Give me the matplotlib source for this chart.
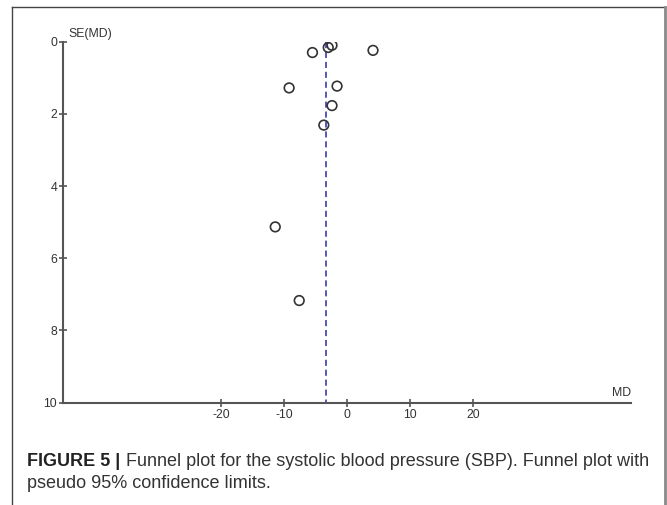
import matplotlib
matplotlib.use("Agg")
import matplotlib.pyplot as plt
from matplotlib.lines import Line2D

plt.rcParams['font.family'] = ['Liberation Sans', 'DejaVu Sans']

# study estimates
md = [-5.5, -3.0, -2.4, 4.1, -9.2, -1.6, -2.4, -3.7, -11.4, -7.6]
se_md = [0.30, 0.16, 0.10, 0.24, 1.28, 1.23, 1.77, 2.31, 5.13, 7.17]
pooled_md = -3.3

x_ticks = [-20, -10, 0, 10, 20]
y_ticks = [0, 2, 4, 6, 8, 10]

W, H = 667, 505
fig = plt.figure(figsize=(W / 100, H / 100), dpi=100)

# axes placed in pixels (left, bottom, right, top from image top)
left, right, top, bottom = 63.3, 631, 41.7, 402.7
ax = fig.add_axes([left / W, 1 - bottom / H, (right - left) / W, (bottom - top) / H])

ax.scatter(md, se_md, s=48, facecolors='none', edgecolors='#333333', linewidths=1.2, zorder=3)
ax.plot([pooled_md, pooled_md], [0, 10], color='#2a2aa8', lw=1.1, ls=(0, (4, 2.5)), zorder=2)

ax.set_xlim(-45, 45)
ax.set_ylim(10, 0)
ax.set_xticks(x_ticks)
ax.set_yticks(y_ticks)
ax.set_xticklabels([str(t) for t in x_ticks])
ax.set_yticklabels([str(t) for t in y_ticks])

for s in ['top', 'right']:
    ax.spines[s].set_visible(False)
for s in ['left', 'bottom']:
    ax.spines[s].set_color('#555555')
    ax.spines[s].set_linewidth(1.5)
ax.tick_params(direction='inout', length=6, width=1.2, color='#555555',
               labelsize=8.8, labelcolor='#333333', pad=1.5)
ax.patch.set_visible(False)

ax.annotate("SE(MD)", xy=(0, 1), xycoords="axes fraction", xytext=(4, 1.5),
            textcoords="offset points", ha="left", va="bottom", fontsize=8.8, color='#333333')
ax.annotate("MD", xy=(1, 0), xycoords="axes fraction", xytext=(0, 3),
            textcoords="offset points", ha="right", va="bottom", fontsize=8.8, color='#333333')

# frame around figure + caption
fig.add_artist(Line2D([12.3 / W, 12.3 / W], [0, 1 - 7.3 / H], color='#444444', lw=1.0))
fig.add_artist(Line2D([12.3 / W, 664.5 / W], [1 - 7.3 / H, 1 - 7.3 / H], color='#444444', lw=1.0))
fig.add_artist(Line2D([664.5 / W, 664.5 / W], [0, 1 - 7.3 / H], color='#8a8a8a', lw=2.0))

cap_size = 13.0
cap_x = 27 / W
bold = fig.text(cap_x, 1 - 461 / H, "FIGURE 5 |", fontsize=cap_size, fontweight='bold',
                color='#222222', va='center', ha='left')
renderer = fig.canvas.get_renderer()
bb = bold.get_window_extent(renderer=renderer)
fig.text((bb.x1 + 6) / W, 1 - 461 / H,
         "Funnel plot for the systolic blood pressure (SBP). Funnel plot with",
         fontsize=cap_size, color='#333333', va='center', ha='left')
fig.text(cap_x, 1 - 484 / H, "pseudo 95% confidence limits.", fontsize=cap_size,
         color='#333333', va='center', ha='left')

fig.savefig("out.png", dpi=100)
